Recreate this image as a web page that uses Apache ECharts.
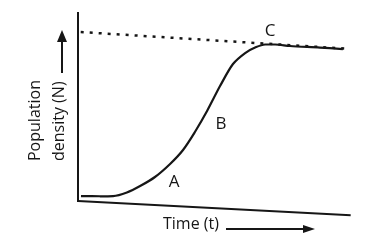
<!DOCTYPE html>
<html>
<head>
<meta charset="utf-8">
<script src="https://cdn.jsdelivr.net/npm/echarts@6/dist/echarts.min.js"></script>
<style>
html,body{margin:0;padding:0;background:#ffffff;}
#chart{width:382px;height:242px;}
</style>
</head>
<body>
<div id="chart"></div>
<script>
// Logistic growth curve (time vs population density)
var timeValues    = [1.1, 8.1, 13.0, 18.1, 23.0, 28.5, 34.1, 38.9, 43.3, 47.8, 52.6, 57.4, 61.9, 65.6, 69.3, 73.0, 78.5, 89.6, 98.1];
var densityValues = [2.6, 2.5, 2.6, 4.5, 7.9, 12.7, 19.6, 27.0, 36.5, 47.6, 60.8, 72.5, 78.3, 81.2, 82.8, 82.8, 82.0, 81.2, 80.4];
// Carrying capacity (dotted line), start and end
var capacityX = [1.0, 99.3];
var capacityY = [89.4, 80.6];
// Axis lines as drawn in the picture (slightly skewed scan)
var yAxisX = [0, 0];
var yAxisY = [-0.5, 100];
var xAxisX = [0, 101];
var xAxisY = [0, -7.5];
// Texts
var yTitleLines = ['Population', 'density (N)'];
var xTitle = 'Time (t)';
var phaseLabels = ['A', 'B', 'C'];

function pairs(xs, ys) { return xs.map(function (x, i) { return [x, ys[i]]; }); }

var ink = '#161616';
var font = '"Open Sans", "Noto Sans", sans-serif';

var chart = echarts.init(document.getElementById('chart'), null, {renderer: 'canvas'});
chart.setOption({
  backgroundColor: '#ffffff',
  animation: false,
  grid: {left: 78, top: 12, width: 272.7, height: 207.9},
  xAxis: {type: 'value', min: 0, max: 101, show: false},
  yAxis: {type: 'value', min: -10, max: 100, show: false},
  series: [
    {type: 'line', data: pairs(yAxisX, yAxisY), symbol: 'none', clip: false,
     lineStyle: {color: ink, width: 2}},
    {type: 'line', data: pairs(xAxisX, xAxisY), symbol: 'none', clip: false,
     lineStyle: {color: ink, width: 2}},
    {type: 'line', data: pairs(capacityX, capacityY), symbol: 'none', clip: false,
     lineStyle: {color: ink, width: 2.5, type: [3, 6], cap: 'butt'}},
    {type: 'line', data: pairs(timeValues, densityValues), symbol: 'none', smooth: 0.3, clip: false,
     lineStyle: {color: ink, width: 2.2}}
  ],
  graphic: [
    {type: 'text', x: 35, y: 161, rotation: Math.PI / 2,
     style: {text: yTitleLines[0], font: '16px ' + font, fill: ink, align: 'left', verticalAlign: 'middle'}},
    {type: 'text', x: 59, y: 161, rotation: Math.PI / 2,
     style: {text: yTitleLines[1], font: '16px ' + font, fill: ink, align: 'left', verticalAlign: 'middle'}},
    {type: 'line', shape: {x1: 62, y1: 73, x2: 62, y2: 40}, style: {stroke: ink, lineWidth: 2}},
    {type: 'polygon', shape: {points: [[62, 30], [57, 42], [67, 42]]}, style: {fill: ink}},
    {type: 'text', x: 163, y: 224,
     style: {text: xTitle, font: '16px ' + font, fill: ink, align: 'left', verticalAlign: 'middle'}},
    {type: 'line', shape: {x1: 226, y1: 229, x2: 307, y2: 229}, style: {stroke: ink, lineWidth: 2}},
    {type: 'polygon', shape: {points: [[315, 229], [303, 225], [303, 233]]}, style: {fill: ink}},
    {type: 'text', x: 174, y: 182,
     style: {text: phaseLabels[0], font: '17px ' + font, fill: ink, align: 'center', verticalAlign: 'middle'}},
    {type: 'text', x: 221, y: 124,
     style: {text: phaseLabels[1], font: '17px ' + font, fill: ink, align: 'center', verticalAlign: 'middle'}},
    {type: 'text', x: 270, y: 31,
     style: {text: phaseLabels[2], font: '17px ' + font, fill: ink, align: 'center', verticalAlign: 'middle'}}
  ]
});
</script>
</body>
</html>
